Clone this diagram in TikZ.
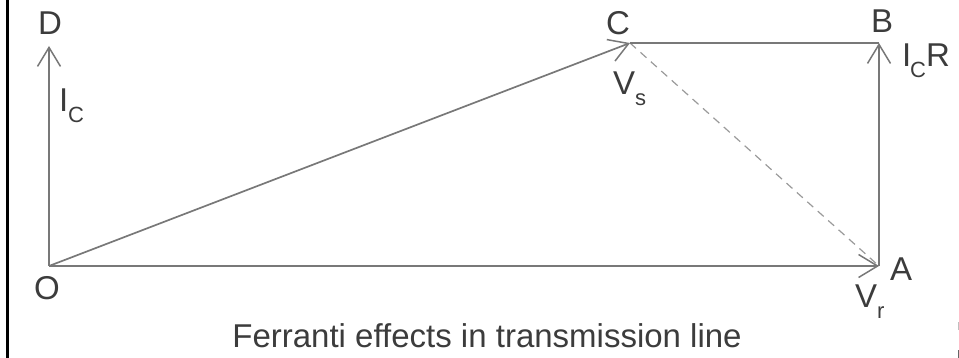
\documentclass[tikz,border=0pt]{standalone}
\usepackage{fontspec}
\setmainfont{Liberation Sans}
\usetikzlibrary{arrows.meta}
\definecolor{linegray}{HTML}{787878}
\definecolor{dashgray}{HTML}{9A9A9A}
\definecolor{txtgray}{HTML}{3C3C3C}
\newcommand\subtxt[1]{\raisebox{-11pt}{\fontsize{22}{22}\selectfont #1}}
\begin{document}
\begin{tikzpicture}[x=1pt,y=-1pt,
  lbl/.style={inner sep=0pt, outer sep=0pt, text=txtgray, font=\fontsize{33}{36}\selectfont},
  vec/.style={draw=linegray, line width=1.7pt, -{Straight Barb[length=19pt,width=23pt,line width=1.5pt]}},
  plain/.style={draw=linegray, line width=2.2pt},
  construct/.style={draw=dashgray, line width=1.2pt, dash pattern=on 8pt off 6pt},
  frameline/.style={draw=black, line width=3pt}]
\useasboundingbox (0,0) rectangle (959,358);
% frame edge at left
\coordinate (ft) at (7,0);
\coordinate (fb) at (7,358);
\draw[frameline] (ft) -- (fb);
% phasor points
\coordinate (O) at (49,266);
\coordinate (D) at (49,46);
\coordinate (C) at (630,43);
\coordinate (B) at (879,43);
\coordinate (A) at (879,266);
% connectors
\draw[construct] (C) -- (A);
\draw[plain] (C) -- (B);
\draw[vec] (O) -- (D);
\draw[vec] (O) -- (C);
\draw[vec] (O) -- (A);
\draw[vec] (A) -- (B);
% labels
\node[lbl, anchor=base] (lD) at (50,35) {D};
\node[lbl, anchor=base west] (lIc) at (59,112) {I\subtxt{C}};
\node[lbl, anchor=base] (lC) at (618,35) {C};
\node[lbl, anchor=base] (lB) at (882,33) {B};
\node[lbl, anchor=base west] (lIcR) at (902,67) {I\kern-1pt\subtxt{C}R};
\node[lbl, anchor=base west] (lVs) at (613,95) {V\subtxt{s}};
\node[lbl, anchor=base] (lO) at (47,300) {O};
\node[lbl, anchor=base] (lA) at (901,281) {A};
\node[lbl, anchor=base west] (lVr) at (855,307) {V\subtxt{r}};
\node[lbl, anchor=base] (cap) at (487,347) {Ferranti effects in transmission line};
% edge marks at right
\coordinate (m1a) at (958,322);
\coordinate (m1b) at (958,330);
\coordinate (m2a) at (958,350);
\coordinate (m2b) at (958,358);
\draw[draw=black!25, line width=1pt] (m1a) -- (m1b);
\draw[draw=black!60, line width=1pt] (m2a) -- (m2b);
\end{tikzpicture}
\end{document}
